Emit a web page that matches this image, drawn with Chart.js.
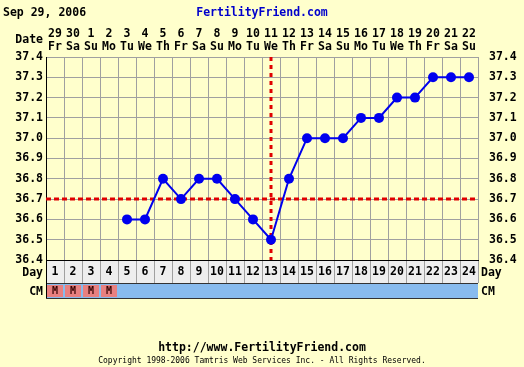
<!DOCTYPE html>
<html>
<head>
<meta charset="utf-8">
<script src="https://cdn.jsdelivr.net/npm/chart.js@4.4.1/dist/chart.umd.min.js"></script>
<style>
  html, body { margin: 0; padding: 0; background: #FFFFCC; }
  #wrap { position: relative; width: 524px; height: 367px; overflow: hidden; }
  #chart { position: absolute; left: 0; top: 0; }
  .lbl { position: absolute; font-family: "DejaVu Sans Mono", monospace; font-weight: bold; font-size: 11.5px; line-height: 14px; color: #000; white-space: nowrap; }
  .r { text-align: right; width: 43px; left: 0; }
</style>
</head>
<body>
<div id="wrap">
  <canvas id="chart" width="524" height="367"></canvas>
  <div class="lbl" style="left:3px;top:5px;">Sep 29, 2006</div>
  <div class="lbl" style="left:0;width:524px;text-align:center;top:5px;color:#0000CC;">FertilityFriend.com</div>
  <div class="lbl r" style="top:32px;">Date</div>
  <div class="lbl r" style="top:265px;">Day</div>
  <div class="lbl r" style="top:284px;">CM</div>
  <div class="lbl" style="left:481px;top:265px;">Day</div>
  <div class="lbl" style="left:481px;top:284px;">CM</div>
  <div class="lbl" style="left:0;width:524px;text-align:center;top:340px;">http://www.FertilityFriend.com</div>
  <div class="lbl" style="left:0;width:524px;text-align:center;top:356px;font-weight:normal;font-size:8px;line-height:10px;">Copyright 1998-2006 Tamtris Web Services Inc. - All Rights Reserved.</div>
</div>
<script>
// chart data
const cycleDays = ['1','2','3','4','5','6','7','8','9','10','11','12','13','14','15','16','17','18','19','20','21','22','23','24'];
const dates = ['29','30','1','2','3','4','5','6','7','8','9','10','11','12','13','14','15','16','17','18','19','20','21','22'];
const weekdays = ['Fr','Sa','Su','Mo','Tu','We','Th','Fr','Sa','Su','Mo','Tu','We','Th','Fr','Sa','Su','Mo','Tu','We','Th','Fr','Sa','Su'];
const temps = [null, null, null, null, 36.6, 36.6, 36.8, 36.7, 36.8, 36.8, 36.7, 36.6, 36.5, 36.8, 37.0, 37.0, 37.0, 37.1, 37.1, 37.2, 37.2, 37.3, 37.3, 37.3];
const cervicalMucus = ['M','M','M','M','','','','','','','','','','','','','','','','','','','',''];
const yTicks = [36.4, 36.5, 36.6, 36.7, 36.8, 36.9, 37.0, 37.1, 37.2, 37.3, 37.4];
const coverline = 36.7;
const ovulationDay = '13';

const FONT = { family: '"DejaVu Sans Mono", monospace', size: 11.5, weight: 'bold' };
const GRID = '#A0A0A0';

// background, day row, CM row and the red cover/ovulation lines
const chartDecor = {
  id: 'chartDecor',
  beforeDraw(chart) {
    const { ctx, chartArea: a, scales: { x } } = chart;
    ctx.save();
    ctx.fillStyle = '#FFFFCC';
    ctx.fillRect(0, 0, chart.width, chart.height);

    const dayTop = a.bottom, dayBot = a.bottom + 23, cmBot = dayBot + 15;
    ctx.fillStyle = '#EEEEEE';
    ctx.fillRect(a.left, dayTop, a.right - a.left, dayBot - dayTop);
    ctx.fillStyle = '#88BBEE';
    ctx.fillRect(a.left, dayBot, a.right - a.left, cmBot - dayBot);

    const half = (x.getPixelForValue(1) - x.getPixelForValue(0)) / 2;
    cervicalMucus.forEach((cm, i) => {
      if (!cm) return;
      const cx = x.getPixelForValue(i);
      ctx.fillStyle = '#E88080';
      ctx.fillRect(cx - half + 1, dayBot + 2, half * 2 - 2, cmBot - dayBot - 3);
      ctx.fillStyle = '#330000';
      ctx.font = 'bold 10px "DejaVu Sans Mono", monospace';
      ctx.textAlign = 'center';
      ctx.textBaseline = 'middle';
      ctx.fillText(cm, cx, (dayBot + cmBot) / 2 + 1);
    });

    ctx.strokeStyle = GRID;
    ctx.lineWidth = 1;
    for (let i = 0; i <= cycleDays.length; i++) {
      const px = Math.round(x.getPixelForValue(i) - half) + 0.5;
      ctx.beginPath();
      ctx.moveTo(px, dayTop);
      ctx.lineTo(px, dayBot);
      ctx.stroke();
    }
    ctx.strokeStyle = '#333333';
    [dayBot, cmBot].forEach(py => {
      ctx.beginPath();
      ctx.moveTo(a.left, py + 0.5);
      ctx.lineTo(a.right, py + 0.5);
      ctx.stroke();
    });
    ctx.strokeStyle = '#000000';
    ctx.beginPath();
    ctx.moveTo(a.left + 0.5, a.top);
    ctx.lineTo(a.left + 0.5, cmBot);
    ctx.stroke();
    ctx.restore();
  },
  beforeDatasetsDraw(chart) {
    const { ctx, chartArea: a, scales: { x, y } } = chart;
    ctx.save();
    ctx.strokeStyle = '#E00000';
    ctx.lineWidth = 3;
    ctx.setLineDash([5, 3]);
    const cy = Math.round(y.getPixelForValue(coverline));
    ctx.beginPath();
    ctx.moveTo(a.left, cy);
    ctx.lineTo(a.right, cy);
    ctx.stroke();
    ctx.setLineDash([4, 4]);
    const ox = Math.round(x.getPixelForValue(cycleDays.indexOf(ovulationDay)));
    ctx.beginPath();
    ctx.moveTo(ox, a.top);
    ctx.lineTo(ox, a.bottom);
    ctx.stroke();
    ctx.restore();
  }
};

new Chart(document.getElementById('chart'), {
  type: 'line',
  data: {
    labels: cycleDays,
    datasets: [{
      data: temps,
      borderColor: '#0000EE',
      backgroundColor: '#0000EE',
      borderWidth: 2,
      pointRadius: 5,
      pointBorderWidth: 0,
      tension: 0
    }]
  },
  options: {
    responsive: false,
    animation: false,
    layout: { padding: 0 },
    plugins: { legend: { display: false }, tooltip: { enabled: false } },
    scales: {
      x: {
        type: 'category',
        position: 'bottom',
        offset: true,
        grid: { color: GRID, offset: true, drawTicks: false },
        border: { color: '#000000' },
        ticks: { color: '#000', font: FONT, padding: 5.5, maxRotation: 0, autoSkip: false },
        afterFit: s => { s.height = 107; }
      },
      x2: {
        type: 'category',
        position: 'top',
        labels: dates.map((d, i) => [d, weekdays[i]]),
        offset: true,
        grid: { display: false },
        border: { display: false },
        ticks: { color: '#000', font: { ...FONT, lineHeight: '13px' }, padding: -4.5, maxRotation: 0, autoSkip: false },
        afterFit: s => { s.height = 57; }
      },
      y: {
        position: 'left',
        min: 36.4,
        max: 37.4,
        grid: { color: GRID, drawTicks: false },
        border: { color: '#000000' },
        ticks: { color: '#000', font: FONT, padding: 3, callback: v => v.toFixed(1) },
        afterBuildTicks: s => { s.ticks = yTicks.map(v => ({ value: v })); },
        afterFit: s => { s.width = 46; }
      },
      y2: {
        position: 'right',
        min: 36.4,
        max: 37.4,
        grid: { display: false },
        border: { display: false },
        ticks: { color: '#000', font: FONT, padding: 3, callback: v => v.toFixed(1) },
        afterBuildTicks: s => { s.ticks = yTicks.map(v => ({ value: v })); },
        afterFit: s => { s.width = 46; }
      }
    }
  },
  plugins: [chartDecor]
});
</script>
</body>
</html>
